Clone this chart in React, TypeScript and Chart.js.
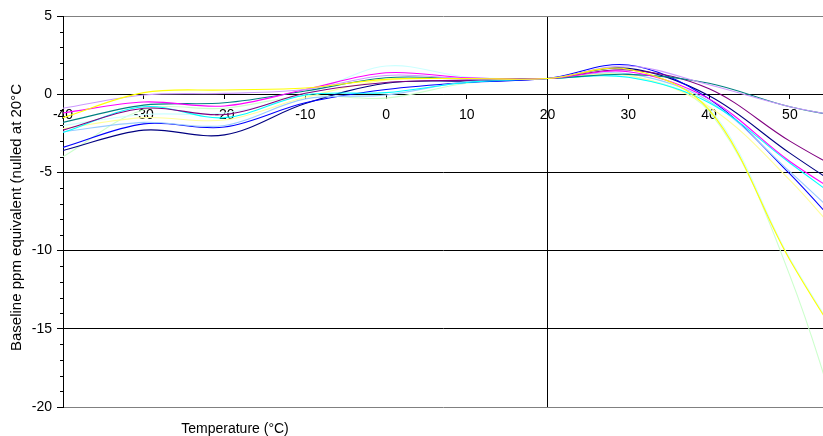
import { useEffect, useRef } from 'react';
import { Chart, registerables } from 'chart.js';
Chart.register(...registerables);

const temps = [-40, -30, -20, -10, 0, 10, 20, 30, 40, 50, 60];
const yellow = [-1.5, 0.1, 0.27, 0.4, 0.95, 1.0, 1.0, 1.6, -1.0, -10.6, -18.9];
const violet = [-0.9, -0.05, 0.05, 0.3, 1.2, 1.0, 1.0, 1.8, 0.6, -0.8, -1.75];
const magenta = [-1.2, -0.5, -0.75, 0.3, 1.37, 1.05, 1.0, 1.44, -0.3, -4.3, -7.6];
const teal = [-1.8, -0.7, -0.55, 0.2, 1.05, 1.0, 1.0, 1.27, 0.7, -0.8, -1.75];
const purple = [-2.3, -0.9, -1.3, 0.06, 0.75, 0.9, 1.0, 1.55, 0.35, -3.0, -5.9];
const cyan = [-2.45, -0.8, -1.5, -0.05, 0.1, 0.75, 1.0, 1.08, -0.55, -4.4, -8.2];
const lightYellow = [-2.2, -1.5, -1.65, -0.2, 0.9, 1.0, 1.0, 1.2, -0.8, -5.5, -11.4];
const lightCyan = [-2.0, -1.3, -1.2, 0.0, 1.8, 1.1, 1.0, 1.1, -0.9, -10.5, -18.8];
const lightBlue = [-2.4, -1.8, -2.0, -0.3, -0.05, 0.8, 1.0, 1.3, -0.45, -4.95, -9.8];
const blue = [-3.4, -1.9, -2.1, -0.55, 0.3, 0.75, 1.0, 1.87, -0.3, -5.1, -10.8];
const navy = [-3.6, -2.3, -2.6, -0.6, 0.7, 0.85, 1.0, 1.65, -0.1, -3.77, -7.2];
const lightGreen = [-4.0, -1.0, -0.9, -0.1, -0.25, 0.7, 1.0, 1.2, -1.1, -11.6, -28.0];

const seriesList: [string, number[], string][] = [
  ['Series 1', yellow, '#FFFF00'],
  ['Series 2', violet, '#CC99FF'],
  ['Series 3', magenta, '#FF00FF'],
  ['Series 4', teal, '#008080'],
  ['Series 5', purple, '#800080'],
  ['Series 6', cyan, '#00FFFF'],
  ['Series 7', lightYellow, '#FFFF99'],
  ['Series 8', lightCyan, '#CCFFFF'],
  ['Series 9', lightBlue, '#99CCFF'],
  ['Series 10', blue, '#0000FF'],
  ['Series 11', navy, '#000080'],
  ['Series 12', lightGreen, '#CCFFCC'],
];

const xTitle = 'Temperature (°C)';
const yTitle = 'Baseline ppm equivalent (nulled at 20°C';
const FONT = '"Liberation Sans", Arial, sans-serif';

export default function App() {
  const ref = useRef<HTMLCanvasElement>(null);
  useEffect(() => {
    if (!ref.current) return;
    const decor = {
      id: 'decor',
      afterDraw(chart: any) {
        const { ctx, chartArea, scales } = chart;
        const y = scales.y;
        ctx.save();
        ctx.strokeStyle = '#000';
        ctx.lineWidth = 1;
        for (let v = -20; v <= 5; v++) {
          if (v % 5 === 0) continue;
          const py = Math.round(y.getPixelForValue(v)) + 0.5;
          ctx.beginPath();
          ctx.moveTo(chartArea.left - 3, py);
          ctx.lineTo(chartArea.left, py);
          ctx.stroke();
        }
        ctx.fillStyle = '#000';
        ctx.textAlign = 'center';
        ctx.textBaseline = 'middle';
        ctx.font = '14px ' + FONT;
        ctx.fillText(xTitle, 235, 429);
        ctx.font = '15px ' + FONT;
        ctx.translate(17, (chartArea.top + chartArea.bottom) / 2 + 6);
        ctx.rotate(-Math.PI / 2);
        ctx.fillText(yTitle, 0, 0);
        ctx.restore();
      },
    };
    const chart = new Chart(ref.current, {
      type: 'line',
      data: {
        datasets: seriesList.map(([label, arr, color]) => ({
          label,
          data: temps.map((t, i) => ({ x: t, y: arr[i] })),
          borderColor: color,
          backgroundColor: color,
          borderWidth: 1.1,
          pointRadius: 0,
          tension: 0.35,
          fill: false,
        })),
      },
      options: {
        animation: false,
        responsive: false,
        devicePixelRatio: 1,
        layout: { padding: { top: 16, bottom: 29, left: 0, right: 0 } },
        plugins: { legend: { display: false }, tooltip: { enabled: false } },
        scales: {
          x: {
            type: 'linear',
            position: { y: 0 } as any,
            min: -40,
            max: 54.1,
            ticks: {
              stepSize: 10,
              includeBounds: false,
              color: '#000',
              font: { family: FONT, size: 14 },
              padding: 9,
              maxRotation: 0,
              autoSkip: false,
            },
            grid: {
              color: (ctx: any) => (ctx.tick && ctx.tick.value === 20 ? '#000' : 'rgba(0,0,0,0)'),
              tickColor: '#000',
              tickLength: 4,
              lineWidth: 1,
            },
            border: { display: true, color: '#000', width: 1 },
          },
          y: {
            type: 'linear',
            min: -20,
            max: 5,
            afterFit: (scale: any) => {
              scale.width = 63;
            },
            ticks: {
              stepSize: 1,
              autoSkip: false,
              color: '#000',
              font: { family: FONT, size: 14 },
              padding: 5,
              callback: (v: any) => (Number(v) % 5 === 0 ? String(v) : ''),
            },
            grid: {
              color: (ctx: any) => {
                const v = ctx.tick ? ctx.tick.value : 1;
                if (v === 5 || v === -20) return '#808080';
                return v % 5 === 0 ? '#000' : 'rgba(0,0,0,0)';
              },
              tickColor: (ctx: any) => {
                const v = ctx.tick ? ctx.tick.value : 1;
                return v % 5 === 0 ? '#000' : 'rgba(0,0,0,0)';
              },
              tickLength: 6,
              lineWidth: 1,
            },
            border: { display: true, color: '#000', width: 1 },
          },
        },
      },
      plugins: [decor],
    });
    return () => chart.destroy();
  }, []);
  return (
    <div style={{ position: 'fixed', left: 0, top: 0, width: 823, height: 436, background: '#fff' }}>
      <canvas ref={ref} width={823} height={436} />
    </div>
  );
}
